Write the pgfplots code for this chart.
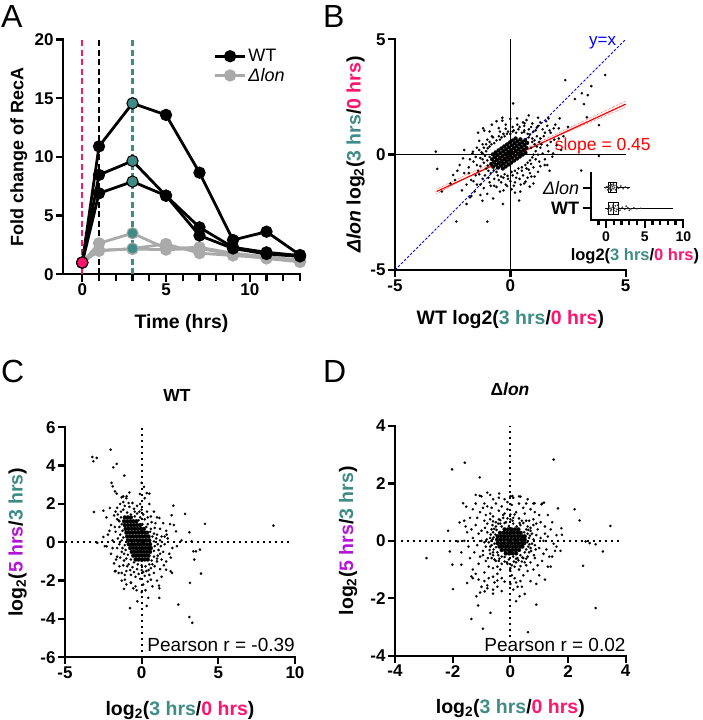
\documentclass[border=0pt]{standalone}
\usepackage{pgfplots}
\pgfplotsset{compat=1.18}
\usepgfplotslibrary{statistics}
\usepackage{fontspec}
\setmainfont{Liberation Sans}
\definecolor{tealc}{RGB}{63,140,135}
\definecolor{pinkc}{RGB}{255,20,110}
\definecolor{purpc}{RGB}{180,20,215}
\definecolor{grayc}{RGB}{170,170,170}
\newcommand{\tfs}{\fontsize{17}{20}\selectfont}
\newcommand{\lfs}{\fontsize{19.5}{23}\selectfont}
\tikzset{
  aline/.style={line width=2.3pt, line cap=rect, line join=miter, black},
  tline/.style={line width=2.3pt, black},
}
\pgfplotsset{
  prism/.style={
    scale only axis, anchor=south west, clip=false,
    axis lines*=left, tick align=outside,
    axis line style={line width=2.3pt, line cap=rect},
    tick style={line width=2.3pt, black},
    major tick length=6pt, minor tick length=5pt,
    /pgf/number format/assume math mode=true,
    ticklabel style={font=\bfseries\tfs},
    label style={font=\bfseries\lfs},
  },
  dots/.style={only marks, mark=*, mark size=1.25pt, mark options={fill=black, draw=black, line width=0.1pt}},
  bigdots/.style={only marks, mark=*, mark size=2pt, mark options={fill=black, draw=black, line width=0.1pt}},
  zline/.style={black, line width=2pt, dash pattern=on 2pt off 4pt},
}
\begin{document}
\begin{tikzpicture}
% ---------------- Panel A ----------------
\begin{axis}[prism, at={(63pt,445.7pt)}, width=237pt, height=234.7pt,
  xmin=-1.15, xmax=13, ymin=0, ymax=20,
  xtick={0,5,10}, minor xtick={1,2,3,4,6,7,8,9,11,12,13}, ytick={0,5,10,15,20},
  xlabel={Time (hrs)}, ylabel={Fold change of RecA},
  xlabel style={at={(axis description cs:0.5,-0.232)}, anchor=base},
  ylabel style={at={(axis description cs:-0.1675,0.5)}, anchor=base, font=\bfseries\fontsize{18}{21}\selectfont},
  legend style={at={(0.635,0.968)}, anchor=north west, draw=none, fill=none,
    font=\fontsize{18}{21.5}\selectfont, legend cell align=left, inner sep=0pt, row sep=1pt},
  legend image code/.code={\draw[mark repeat=2,mark phase=2,#1] plot coordinates {(0pt,0pt) (15pt,0pt) (30pt,0pt)};},
]
\addlegendimage{black, line width=2.8pt, mark=*, mark size=4.7pt}
\addlegendentry{WT}
\addlegendimage{grayc, line width=2.8pt, mark=*, mark size=4.7pt}
\addlegendentry{\textit{Δlon}}
\draw[aline] (rel axis cs:0,1) -- (rel axis cs:0,0) -- (rel axis cs:1,0);
\pgfplotsinvokeforeach{0,5,10}{\draw[tline] (axis cs:#1,0) -- ++(0pt,-7.5pt);}
\pgfplotsinvokeforeach{1,2,3,4,6,7,8,9,11,12,13}{\draw[tline] (axis cs:#1,0) -- ++(0pt,-6.5pt);}
\pgfplotsinvokeforeach{0,5,10,15,20}{\draw[tline] (axis cs:-1.15,#1) -- ++(-7pt,0pt);}
\addplot[forget plot, pinkc, line width=2.3pt, dash pattern=on 6pt off 3.5pt] coordinates {(0,0) (0,20)};
\addplot[forget plot, black, line width=2.3pt, dash pattern=on 6pt off 3.5pt] coordinates {(1,0) (1,20)};
\addplot[forget plot, tealc, line width=2.3pt, dash pattern=on 6pt off 3.5pt] coordinates {(3,0) (3,20)};
\addplot[forget plot, grayc, line width=2.8pt, mark=*, mark size=4.7pt] coordinates {(0,1) (1,2.64) (3,3.5) (5,2.2) (7,2.3) (9,1.8) (11,1.5) (13,1.2)};
\addplot[forget plot, grayc, line width=2.8pt, mark=*, mark size=4.7pt] coordinates {(0,1) (1,2.0) (3,2.2) (5,2.58) (7,1.8) (9,1.6) (11,1.4) (13,1.1)};
\addplot[forget plot, grayc, line width=2.8pt, mark=*, mark size=4.7pt] coordinates {(0,1) (1,2.05) (3,2.15) (5,2.1) (7,2.2) (9,1.7) (11,1.35) (13,1.05)};
\addplot[forget plot, black, line width=2.8pt, mark=*, mark size=4.7pt] coordinates {(0,1) (1,10.9) (3,14.57) (5,13.58) (7,8.66) (9,2.92) (11,3.63) (13,1.64)};
\addplot[forget plot, black, line width=2.8pt, mark=*, mark size=4.7pt] coordinates {(0,1) (1,8.47) (3,9.66) (5,6.7) (7,4.0) (9,2.3) (11,1.87) (13,1.6)};
\addplot[forget plot, black, line width=2.8pt, mark=*, mark size=4.7pt] coordinates {(0,1) (1,6.9) (3,7.9) (5,6.7) (7,3.3) (9,2.2) (11,1.73) (13,1.52)};
\addplot[forget plot, only marks, mark=*, mark size=4.7pt, tealc] coordinates {(3,14.57) (3,9.66) (3,7.9) (3,3.5) (3,2.2)};
\addplot[forget plot, only marks, mark=*, mark size=4.7pt, pinkc] coordinates {(0,1)};
\end{axis}
% ---------------- Panel B ----------------
\begin{axis}[prism, at={(395pt,450pt)}, width=230.7pt, height=230.7pt,
  xmin=-5, xmax=5, ymin=-5, ymax=5, xtick={-5,0,5}, ytick={-5,0,5},
  xlabel={WT log2(\textcolor{tealc}{3 hrs}/\textcolor{pinkc}{0 hrs})},
  ylabel={\textit{Δlon} log\textsubscript{2}(\textcolor{tealc}{3 hrs}/\textcolor{pinkc}{0 hrs})},
  xlabel style={at={(axis description cs:0.5,-0.238)}, anchor=base},
  ylabel style={at={(axis description cs:-0.149,0.5)}, anchor=base},
]
\draw[aline] (rel axis cs:0,1) -- (rel axis cs:0,0) -- (rel axis cs:1,0);
\pgfplotsinvokeforeach{-5,0,5}{\draw[tline] (axis cs:#1,-5) -- ++(0pt,-7pt);}
\pgfplotsinvokeforeach{-5,0,5}{\draw[tline] (axis cs:-5,#1) -- ++(-7pt,0pt);}
\addplot[black, line width=1pt] coordinates {(0,-5) (0,5)};
\addplot[black, line width=1pt] coordinates {(-5,0) (5,0)};
\addplot[bigdots] coordinates {
(-0.744,-0.528)(-0.83,-0.406)(0.73,0.506)(0.644,0.628)
(-0.535,-0.565)(-0.621,-0.442)(-0.707,-0.32)(-0.793,-0.197)
(0.693,0.297)(0.607,0.42)(0.521,0.542)(0.435,0.665)
(-0.326,-0.601)(-0.412,-0.478)(-0.498,-0.355)(-0.584,-0.233)(-0.67,-0.11)(-0.756,0.013)
(0.656,0.087)(0.57,0.21)(0.484,0.333)(0.398,0.455)(0.312,0.578)(0.226,0.701)
(-0.204,-0.515)(-0.29,-0.392)(-0.376,-0.269)(-0.462,-0.147)(-0.548,-0.024)(-0.634,0.099)
(-0.081,-0.429)(-0.167,-0.306)(-0.253,-0.183)(-0.339,-0.061)(-0.425,0.062)(-0.511,0.185)
(0.042,-0.343)(-0.044,-0.22)(-0.13,-0.097)(-0.216,0.025)(-0.302,0.148)(-0.388,0.271)
(0.165,-0.257)(0.079,-0.134)(-0.007,-0.011)(-0.093,0.111)(-0.179,0.234)(-0.265,0.357)
(0.288,-0.171)(0.202,-0.048)(0.116,0.075)(0.03,0.197)(-0.056,0.32)(-0.142,0.443)
(0.411,-0.085)(0.325,0.038)(0.239,0.161)(0.153,0.283)(0.067,0.406)(-0.019,0.529)
(0.534,0.001)(0.448,0.124)(0.362,0.247)(0.276,0.369)(0.19,0.492)(0.104,0.615)
};
\addplot[dots] coordinates {
(-1.15,-0.35)(-1.05,-0.6)(-0.85,-0.8)(-0.55,-0.9)(-0.25,-0.85)(0.05,-0.75)(0.35,-0.6)(0.65,-0.45)(0.85,-0.25)(1.0,0.0)
(1.1,0.15)(1.05,0.45)(0.95,0.7)(0.75,0.9)(0.5,0.95)(0.25,0.95)(0.0,0.9)(-0.25,0.8)(-0.45,0.65)(-0.7,0.5)
(-0.9,0.35)(-1.05,0.15)(-1.1,-0.05)(-0.95,-0.7)(-0.6,-0.75)(0.8,0.75)(0.9,0.3)(-0.9,-0.1)(0.95,0.55)(-1.0,-0.25)
(-0.98,-0.48)(-0.72,-0.68)(-0.4,-0.95)(-0.12,-0.92)(0.2,-0.7)(0.5,-0.55)(0.75,-0.35)(0.95,-0.12)(1.15,0.35)(1.05,0.62)
(0.85,0.88)(0.6,0.98)(0.1,1.0)(-0.15,0.9)(-0.38,0.75)(-0.6,0.62)(-0.82,0.45)(-0.98,0.28)(-1.2,0.05)(-1.3,-0.15)
(-1.45,-0.45)(-1.35,-0.85)(-1.2,-1.05)(-0.9,-1.2)(-0.4,-1.2)(0.0,-1.15)(0.25,-1.0)(0.55,-0.9)(0.8,-0.65)(1.0,-0.55)
(1.25,-0.3)(1.4,0.05)(1.35,0.45)(1.3,0.7)(1.1,1.05)(0.9,1.2)(0.6,1.25)(0.4,1.2)(0.1,1.2)(-0.2,1.12)
(-0.45,1.0)(-0.8,0.8)(-1.0,0.65)(-1.2,0.45)(-1.35,0.2)(-1.5,-0.1)
(-1.8,-0.8)(-1.6,-1.15)(-1.45,-1.3)(-1.15,-1.45)(-0.7,-1.35)(-0.3,-1.55)(0.15,-1.35)(0.45,-1.3)(0.75,-1.0)(1.2,-0.75)
(1.6,-0.45)(1.65,0.15)(1.75,0.55)(1.5,0.95)(1.6,1.25)(1.3,1.4)(0.7,1.5)(-0.35,1.6)(-0.8,1.3)
(-1.75,-0.2)(-2.3,-0.7)(-2.6,-1.25)(-1.3,-1.75)(-0.75,-1.9)(0.2,-1.65)(1.0,-1.25)(2.2,0.2)(2.1,0.7)
(1.95,1.3)(-1.4,0.95)(-2.0,0.2)
(-1.3,-0.5)(-1.2,-0.2)(-1.25,0.1)(-1.15,0.3)(-1.4,-0.7)(-1.5,-0.9)(-1.1,-0.9)(-0.95,-1.0)(-0.7,-1.05)(-0.5,-1.1)
(-0.3,-1.0)(-0.1,-1.05)(0.1,-0.9)(0.3,-0.8)(0.5,-0.7)(0.7,-0.6)(0.9,-0.4)(1.1,-0.2)(1.2,0.0)(1.3,0.3)
(1.25,0.55)(1.15,0.8)(1.0,1.0)(0.8,1.1)(0.6,1.05)(0.35,1.1)(0.15,1.05)(-0.1,1.0)(-0.3,0.9)(-0.5,0.8)
(-0.75,0.75)(-0.9,0.55)(-1.05,0.45)
(-1.6,-0.3)(-1.7,-1.1)(-1.3,-1.3)(-0.85,-1.35)(-0.6,-1.4)(-0.2,-1.3)(0.2,-1.2)(0.4,-1.05)(0.85,-0.8)(1.3,-0.5)
(1.5,-0.2)(1.6,0.4)(1.45,0.8)(1.4,1.1)(1.2,1.25)(0.95,1.35)(0.55,1.4)(0.3,1.3)(-0.2,1.3)(-0.5,1.15)
(-0.9,1.0)(-1.45,0.3)(-1.8,-0.55)(-2.0,-0.8)(-1.9,-1.3)(-1.55,-1.6)(-1.0,-1.7)(-0.45,-1.6)(0.05,-1.5)
(0.6,-1.25)(1.05,-0.95)(1.7,-0.7)(1.85,0.05)(1.9,0.65)(1.7,1.05)(1.55,1.45)(1.2,1.6)(0.8,1.7)(0.0,1.55)
(-0.6,1.45)(-1.35,0.6)(-1.65,0.05)(-2.2,-0.45)(-2.4,-1.1)(-2.1,-1.55)(-1.75,-1.85)
(4.11,3.45)(2.38,3.23)(3.51,2.97)(3.1,2.66)(3.36,2.58)(2.8,2.41)(3.19,2.19)(0.12,2.22)(3.32,1.62)(3.84,1.28)
(2.14,1.57)(1.66,1.57)(1.88,1.14)(1.75,0.95)(2.1,1.14)(-0.35,1.47)(-1.18,1.14)(-1.13,1.04)(-3.23,0.13)(-3.17,-0.62)
(-2.97,-1.6)(3.84,-0.06)(3.07,-0.69)(-2.34,-2.9)(-1.0,-2.9)(-0.32,-2.14)(-1.21,-2.0)(-1.9,-2.14)(-1.69,-1.79)(0.43,-1.6)
(0.84,-1.39)(0.66,-1.17)(1.82,-0.09)(1.49,-0.45)(-2.48,-0.88)(-2.05,-0.16)(-1.62,0.13)(0.29,1.57)(0.62,1.36)(1.15,1.18)
(0.38,-1.99)(-0.14,-1.36)(0.91,-0.95)(2.5,1.2)(2.3,0.8)(1.3,0.7)(2.0,0.4)
};
\addplot[blue, line width=1pt, dash pattern=on 2.5pt off 1.8pt] coordinates {(-5,-5) (5,5)};
\addplot[red, line width=0.5pt, densely dotted] coordinates {(-3.2,-1.50) (-1.5,-0.685) (0,-0.03) (1.5,0.665) (3,1.37) (5,2.32)};
\addplot[red, line width=0.5pt, densely dotted] coordinates {(-3.2,-1.70) (-1.5,-0.785) (0,-0.09) (1.5,0.565) (3,1.21) (5,2.06)};
\addplot[red, line width=1.2pt] coordinates {(-3.2,-1.6) (5,2.19)};
\node[blue, anchor=base, font=\fontsize{17}{20}\selectfont, inner sep=0pt] at (axis cs:4.0,4.75) {y=x};
\node[red, anchor=base west, font=\fontsize{17.5}{21}\selectfont, inner sep=0pt] at (axis cs:1.92,0.2) {slope = 0.45};
\end{axis}
% ---------------- Inset ----------------
\begin{axis}[prism, at={(590.7pt,500pt)}, width=92.6pt, height=46.7pt,
  xmin=-2, xmax=10, ymin=0.43, ymax=2.7,
  major tick length=8pt, minor tick length=5.5pt,
  xtick={0,5,10}, minor xtick={-1,1,2,3,4,6,7,8,9},
  ytick={1,2}, yticklabels={\textbf{WT},\textit{\mdseries Δlon}},
  xticklabel style={font=\bfseries\fontsize{14}{16}\selectfont},
  yticklabel style={font=\bfseries\fontsize{18}{21}\selectfont},
  xlabel={log2(\textcolor{tealc}{3 hrs}/\textcolor{pinkc}{0 hrs})},
  xlabel style={at={(axis description cs:0.478,-0.87)}, anchor=base, font=\bfseries\fontsize{16.5}{19}\selectfont},
]
\draw[aline, line width=1.7pt] (rel axis cs:0,1) -- (rel axis cs:0,0) -- (rel axis cs:1,0);
\pgfplotsinvokeforeach{0,5,10}{\draw[tline, line width=1.7pt] (axis cs:#1,0.43) -- ++(0pt,-8pt);}
\pgfplotsinvokeforeach{-1,1,2,3,4,6,7,8,9}{\draw[tline, line width=1.7pt] (axis cs:#1,0.43) -- ++(0pt,-5.5pt);}
\pgfplotsinvokeforeach{1,2}{\draw[tline, line width=1.7pt] (axis cs:-2,#1) -- ++(-8pt,0pt);}
\addplot[only marks, mark=*, mark size=0.8pt, black!80, mark options={line width=0.1pt}] coordinates {
(0.1,2.05)(0.3,1.9)(0.4,2.1)(0.5,1.95)(0.6,2.12)(0.7,1.88)(0.8,2.05)(0.9,1.95)(1.0,2.1)(1.2,1.9)
(1.4,2.05)(1.6,1.97)(1.9,2.08)(2.2,1.95)(2.5,2.03)(2.8,1.97)(0.2,1.9)(0.55,2.02)(0.75,2.15)(1.1,2.0)
(0.35,2.0)(0.65,1.92)(0.95,2.18)(1.3,2.12)(-0.1,2.0)
(0.2,0.95)(0.4,1.1)(0.6,0.88)(0.8,1.05)(1.0,0.9)(1.2,1.12)(1.4,0.95)(1.6,1.05)(1.8,0.9)(2.1,1.05)
(2.4,0.95)(2.8,1.03)(3.2,0.97)(3.6,1.02)(4.0,0.98)(4.5,1.0)(0.5,1.0)(0.9,1.15)(1.3,0.85)(0.7,0.95)
(1.1,1.0)(1.5,1.15)(0.3,0.85)(2.6,1.1)(3.0,0.9)
};
\addplot[black, line width=0.8pt, boxplot prepared={lower whisker=-0.3, lower quartile=0.25, median=0.6, upper quartile=1.3, upper whisker=3.1, draw position=2, box extend=0.5, whisker extend=0}] coordinates {};
\addplot[black, line width=0.8pt, boxplot prepared={lower whisker=-0.2, lower quartile=0.35, median=0.9, upper quartile=1.6, upper whisker=8.6, draw position=1, box extend=0.55, whisker extend=0}] coordinates {};
\end{axis}
% ---------------- Panel C ----------------
\begin{axis}[prism, at={(65pt,62.7pt)}, width=230pt, height=230pt,
  xmin=-5, xmax=10, ymin=-6, ymax=6, xtick={-5,0,5,10}, ytick={-6,-4,-2,0,2,4,6},
  xlabel={log\textsubscript{2}(\textcolor{tealc}{3 hrs}/\textcolor{pinkc}{0 hrs})},
  ylabel={log\textsubscript{2}(\textcolor{purpc}{5 hrs}/\textcolor{tealc}{3 hrs})},
  xlabel style={at={(axis description cs:0.5,-0.251)}, anchor=base},
  ylabel style={at={(axis description cs:-0.184,0.5)}, anchor=base},
  title={WT}, title style={at={(axis description cs:0.487,1.085)}, anchor=base, font=\bfseries\fontsize{17.5}{21}\selectfont},
]
\draw[aline] (rel axis cs:0,1) -- (rel axis cs:0,0) -- (rel axis cs:1,0);
\pgfplotsinvokeforeach{-5,0,5,10}{\draw[tline] (axis cs:#1,-6) -- ++(0pt,-7pt);}
\pgfplotsinvokeforeach{-6,-4,-2,0,2,4,6}{\draw[tline] (axis cs:-5,#1) -- ++(-7pt,0pt);}
\addplot[zline] coordinates {(0,-5.7) (0,6)};
\addplot[zline] coordinates {(-5,0) (9.8,0)};
\addplot[bigdots] coordinates {
(-1.1,1.3)(-0.9,1.3)(-0.7,1.3)
(-1.15,1.1)(-0.95,1.1)(-0.75,1.1)(-0.55,1.1)(-0.35,1.1)
(-1.1,0.9)(-0.9,0.9)(-0.7,0.9)(-0.5,0.9)(-0.3,0.9)(-0.1,0.9)
(-1.05,0.7)(-0.85,0.7)(-0.65,0.7)(-0.45,0.7)(-0.25,0.7)(-0.05,0.7)(0.15,0.7)
(-1.0,0.5)(-0.8,0.5)(-0.6,0.5)(-0.4,0.5)(-0.2,0.5)(0.0,0.5)(0.2,0.5)(0.35,0.5)
(-0.95,0.3)(-0.75,0.3)(-0.55,0.3)(-0.35,0.3)(-0.15,0.3)(0.05,0.3)(0.25,0.3)(0.45,0.3)
(-0.9,0.1)(-0.7,0.1)(-0.5,0.1)(-0.3,0.1)(-0.1,0.1)(0.1,0.1)(0.3,0.1)(0.5,0.1)
(-0.85,-0.1)(-0.65,-0.1)(-0.45,-0.1)(-0.25,-0.1)(-0.05,-0.1)(0.15,-0.1)(0.35,-0.1)(0.55,-0.1)
(-0.75,-0.3)(-0.55,-0.3)(-0.35,-0.3)(-0.15,-0.3)(0.05,-0.3)(0.25,-0.3)(0.45,-0.3)(0.6,-0.3)
(-0.65,-0.5)(-0.45,-0.5)(-0.25,-0.5)(-0.05,-0.5)(0.15,-0.5)(0.35,-0.5)(0.55,-0.5)
(-0.55,-0.7)(-0.35,-0.7)(-0.15,-0.7)(0.05,-0.7)(0.25,-0.7)(0.45,-0.7)
(-0.4,-0.9)(-0.2,-0.9)(0.0,-0.9)(0.2,-0.9)(0.4,-0.9)
};
\addplot[dots] coordinates {
(-1.35,1.6)(-1.2,1.7)(-0.95,1.55)(-0.7,1.45)(-0.45,1.35)(-0.2,1.15)(0.05,0.95)(0.3,0.8)(0.55,0.55)(0.7,0.3)
(0.8,0.05)(0.85,-0.2)(0.8,-0.45)(0.8,-0.75)(0.65,-0.95)(0.5,-1.15)(0.25,-1.25)(0.0,-1.2)(-0.25,-1.15)(-0.5,-1.05)
(-0.7,-0.9)(-0.9,-0.65)(-1.05,-0.4)(-1.1,-0.15)(-1.2,0.25)(-1.25,0.6)(-1.3,0.95)(-1.35,1.3)
(-1.45,1.1)(-1.6,1.2)(-1.75,0.8)(-1.55,0.2)(-1.45,-0.1)(-1.3,-0.5)(-1.15,-0.95)(-0.95,-1.25)(-0.75,-1.45)(-0.5,-1.55)
(-0.2,-1.65)(0.1,-1.55)(0.45,-1.45)(0.7,-1.15)(1.0,-0.85)(1.2,-0.6)(1.25,-0.2)(1.2,0.1)(1.0,0.4)(0.85,0.75)
(0.65,1.05)(0.4,1.3)(0.1,1.45)(-0.15,1.6)(-0.45,1.6)(-0.85,2.05)(-1.2,2.1)(-1.7,1.6)(-2.3,1.3)(-2.1,0.6)
(-1.9,-0.3)(-1.6,-0.75)(-1.45,-1.25)(-1.1,-1.7)(-0.55,-2.4)(0.25,-2.5)(0.6,-1.95)(1.3,-1.8)(1.45,-1.2)(2.0,-0.3)
(1.5,0.3)(1.85,0.95)(0.8,1.6)(-0.1,2.0)
(-1.6,1.8)(-1.4,2.0)(-1.1,1.9)(-0.8,1.85)(-0.5,1.75)(-0.3,1.5)(-0.1,1.3)(0.2,1.2)(0.4,0.95)(0.6,0.7)
(0.8,0.45)(0.95,0.2)(1.05,-0.1)(1.1,-0.4)(1.05,-0.7)(1.0,-1.0)(0.85,-1.25)(0.6,-1.35)(0.3,-1.5)(0.0,-1.45)
(-0.3,-1.4)(-0.6,-1.3)(-0.85,-1.15)(-1.0,-0.85)(-1.15,-0.6)(-1.25,-0.3)(-1.3,0.1)(-1.4,0.4)(-1.45,0.8)(-1.5,1.15)
(-1.55,1.45)(-1.8,1.4)(-2.0,0.9)(-1.7,0.55)(-1.9,0.1)(-1.6,-0.3)(-1.4,-0.8)(-1.2,-1.2)(-1.0,-1.5)(-0.7,-1.7)
(-0.4,-1.8)(-0.1,-1.9)(0.2,-1.75)(0.5,-1.7)(0.8,-1.6)(1.2,-1.4)(1.3,-0.9)(1.4,-0.5)(1.5,-0.1)(1.3,0.3)
(1.2,0.7)(0.9,1.0)(0.6,1.35)(0.35,1.6)(0.0,1.7)(-0.3,1.9)(-0.6,2.05)(-1.0,2.3)(-1.3,2.35)
(-1.5,-1.6)(-1.3,-2.0)(-1.0,-2.2)(-0.7,-2.1)(-0.4,-2.3)(0.1,-2.2)(0.4,-2.05)(0.7,-2.3)(1.0,-2.0)(1.6,-1.0)
(1.8,-0.6)(1.7,0.2)(1.6,0.6)(1.4,1.0)(1.0,1.3)(0.5,2.0)(0.2,2.3)(-0.8,2.6)(-2.2,0.4)(-2.4,-0.2)
(-2.0,-0.6)(-1.8,-1.1)(-1.7,-1.5)
(-3.22,4.45)(-2.93,4.4)(-3.15,4.23)(-2.02,4.83)(-1.63,4.09)(-1.85,3.91)(-1.13,3.48)(-1.96,3.1)(-1.89,2.92)(-1.74,2.66)
(-1.63,2.54)(-1.2,2.4)(-0.98,2.4)(-3.11,1.58)(-2.5,1.65)(-2.07,1.79)(0.0,3.1)(0.15,2.89)(0.33,2.57)(0.5,2.54)
(-0.11,2.52)(2.07,1.91)(2.83,1.48)(1.96,1.41)(1.15,1.27)(4.13,0.96)(3.11,0.52)(2.24,0.57)(1.63,0.40)(8.59,0.87)
(3.26,0.05)(3.37,-0.47)(3.54,-0.47)(3.43,-0.9)(3.8,-0.38)(3.87,-1.63)(1.89,-1.51)(1.98,-1.60)(1.59,-1.43)(3.15,-2.12)
(1.13,-2.26)(1.15,-2.40)(1.15,-2.9)(2.39,-3.25)(3.11,-3.9)(3.3,-4.2)(-0.76,-3.43)(-0.28,-3.08)(0.43,-2.9)(0.33,-3.32)
(-1.15,-2.43)(-1.74,-1.51)(-2.28,-0.21)(-2.89,-0.03)(-2.5,0.28)(-1.67,-0.9)(-1.3,-1.6)(-1.09,-1.95)(-0.7,-2.12)(-0.33,-2.5)
(0.0,-2.6)(2.3,-0.2)(2.6,0.1)(1.9,-0.8)(2.1,0.9)
};
\node[anchor=base east, inner sep=0pt, font=\fontsize{19}{22}\selectfont] at (axis cs:10,-5.69) {Pearson r = -0.39};
\end{axis}
% ---------------- Panel D ----------------
\begin{axis}[prism, at={(395pt,64.3pt)}, width=230.7pt, height=229.7pt,
  xmin=-4, xmax=4, ymin=-4, ymax=4, xtick={-4,-2,0,2,4}, ytick={-4,-2,0,2,4},
  xlabel={log\textsubscript{2}(\textcolor{tealc}{3 hrs}/\textcolor{pinkc}{0 hrs})},
  ylabel={log\textsubscript{2}(\textcolor{purpc}{5 hrs}/\textcolor{tealc}{3 hrs})},
  xlabel style={at={(axis description cs:0.5,-0.251)}, anchor=base},
  ylabel style={at={(axis description cs:-0.181,0.5)}, anchor=base},
  title={Δ\textit{lon}}, title style={at={(axis description cs:0.4985,1.105)}, anchor=base, font=\bfseries\fontsize{17.5}{21}\selectfont},
]
\draw[aline] (rel axis cs:0,1) -- (rel axis cs:0,0) -- (rel axis cs:1,0);
\pgfplotsinvokeforeach{-4,-2,0,2,4}{\draw[tline] (axis cs:#1,-4) -- ++(0pt,-7pt);}
\pgfplotsinvokeforeach{-4,-2,0,2,4}{\draw[tline] (axis cs:-4,#1) -- ++(-7pt,0pt);}
\addplot[zline] coordinates {(0,-3.35) (0,4)};
\addplot[zline] coordinates {(-3.8,0) (3.85,0)};
\addplot[bigdots] coordinates {
(-0.2,0.4)(-0.08,0.4)(0.04,0.4)(0.16,0.4)(0.28,0.4)
(-0.36,0.28)(-0.24,0.28)(-0.12,0.28)(0,0.28)(0.12,0.28)(0.24,0.28)(0.36,0.28)
(-0.44,0.16)(-0.32,0.16)(-0.2,0.16)(-0.08,0.16)(0.04,0.16)(0.16,0.16)(0.28,0.16)(0.4,0.16)(0.5,0.16)
(-0.46,0.04)(-0.34,0.04)(-0.22,0.04)(-0.1,0.04)(0.02,0.04)(0.14,0.04)(0.26,0.04)(0.38,0.04)(0.5,0.04)
(-0.44,-0.08)(-0.32,-0.08)(-0.2,-0.08)(-0.08,-0.08)(0.04,-0.08)(0.16,-0.08)(0.28,-0.08)(0.4,-0.08)(0.48,-0.08)
(-0.38,-0.2)(-0.26,-0.2)(-0.14,-0.2)(-0.02,-0.2)(0.1,-0.2)(0.22,-0.2)(0.34,-0.2)(0.42,-0.2)
(-0.3,-0.32)(-0.18,-0.32)(-0.06,-0.32)(0.06,-0.32)(0.18,-0.32)(0.3,-0.32)
(-0.16,-0.44)(-0.04,-0.44)(0.08,-0.44)(0.2,-0.44)
};
\addplot[dots] coordinates {
(-0.52,0.22)(-0.5,-0.22)(-0.48,0.38)(-0.42,-0.5)(-0.3,0.5)(-0.2,-0.56)(-0.05,0.52)(0.1,-0.55)(0.22,0.5)(0.35,-0.5)
(0.48,0.3)(0.55,-0.3)(0.6,0.25)(0.58,-0.05)(-0.58,0.12)(-0.65,-0.15)(-0.68,0.22)(-0.72,-0.32)(-0.62,0.55)(-0.5,-0.7)
(-0.35,0.72)(-0.12,-0.75)(0.08,0.7)(0.28,-0.68)(0.45,0.62)(0.55,-0.62)(0.7,0.45)(0.72,-0.35)(0.8,0.05)(0.82,-0.5)
(-0.82,0.05)(-0.85,-0.2)(-0.88,0.45)(-0.78,-0.6)(-0.25,0.9)(0.15,0.92)(-0.45,-0.9)(0.35,-0.88)(0.7,-0.75)(-0.7,0.75)
(0.9,0.6)(-0.95,-0.5)(0.0,0.92)(0.0,-0.95)
(-0.56,0.42)(-0.6,-0.4)(-0.42,0.6)(-0.38,-0.62)(-0.2,0.62)(0.2,-0.62)(0.32,0.62)(0.42,-0.58)(0.62,0.38)(0.66,-0.12)
(-0.66,0.0)(0.68,0.18)(-0.1,0.78)(0.12,-0.72)(-0.6,0.68)(0.55,0.7)(-0.65,-0.6)(0.5,-0.75)(-0.9,-0.05)(0.88,-0.3)
(-0.6,0.3)(-0.55,-0.1)(-0.5,0.5)(-0.45,-0.4)(-0.35,0.6)(-0.3,-0.55)(-0.15,0.65)(-0.05,-0.65)(0.1,0.6)(0.25,-0.6)
(0.35,0.55)(0.5,-0.4)(0.55,0.4)(0.62,-0.2)(0.65,0.1)(-0.62,0.05)(-0.58,-0.3)(-0.4,0.75)(0.0,0.75)(0.3,0.78)
(-0.2,-0.72)(0.4,-0.72)(0.7,0.35)(0.7,-0.25)(-0.75,-0.05)(-0.8,0.3)(-0.7,-0.45)(-0.55,-0.65)(-0.3,-0.8)(0.05,-0.85)
(0.6,-0.55)(0.85,-0.15)(0.9,0.2)(0.65,0.7)(-0.6,0.85)(-0.85,0.9)(-1.1,0.25)(-1.15,-0.15)(-1.05,-0.55)(-0.75,-0.9)
(-0.45,-1.15)(0.05,-1.2)(0.6,-1.05)(0.95,-0.85)(1.15,-0.45)(1.15,0.0)(1.05,0.65)(0.85,1.0)(0.45,1.15)(0.05,1.25)
(-0.3,1.2)(-0.65,1.15)(-0.95,1.15)(-1.15,0.8)(-1.35,0.4)(-1.4,-0.6)(-1.2,-1.15)(-0.8,-1.55)(-0.45,-1.6)(0.25,-1.6)
(0.7,-1.4)(1.0,-1.2)(1.3,-0.9)(1.45,-0.55)(1.45,0.65)(1.3,0.9)(0.6,1.45)(-0.2,1.45)(-0.6,1.45)(-1.3,1.1)
(-1.7,-0.4)(-1.6,0.7)(-1.05,-1.8)(0.5,-1.85)(0.2,-2.1)
(-0.7,0.1)(-0.7,-0.2)(-0.65,0.4)(-0.6,-0.5)(-0.5,0.65)(-0.4,-0.7)(-0.25,0.8)(-0.1,-0.8)(0.1,0.8)(0.2,-0.75)
(0.4,0.7)(0.45,-0.6)(0.6,0.5)(0.65,-0.4)(0.75,0.25)(0.75,-0.1)(-0.8,0.6)(0.8,0.55)
(-1.0,0.0)(-1.0,0.35)(-0.95,-0.35)(-0.9,0.7)(-0.85,-0.7)(-0.7,0.95)(-0.6,-0.95)(-0.4,1.05)(-0.35,-1.0)(-0.1,1.1)
(0.0,-1.05)(0.2,1.0)(0.3,-1.0)(0.5,0.95)(0.55,-0.85)(0.8,0.75)(0.85,-0.6)(0.95,0.4)(1.0,-0.25)(1.05,0.1)
(-0.2,0.95)(0.15,-0.9)
(-1.3,0.1)(-1.25,-0.4)(-1.2,0.55)(-1.1,-0.8)(-1.05,1.0)(-0.9,-1.1)(-0.8,1.2)(-0.6,-1.25)(-0.5,1.3)(-0.3,-1.3)
(-0.1,1.35)(0.15,-1.3)(0.3,1.3)(0.45,-1.2)(0.7,1.1)(0.8,-1.0)(1.0,0.9)(1.1,-0.7)(1.2,0.5)(1.25,-0.3)
(1.3,0.15)(1.2,0.25)
(-1.3,-1.3)(-1.1,-1.35)(-0.9,-1.4)(-0.75,-1.3)(-0.55,-1.45)(-0.45,-1.38)(-0.2,-1.42)(0.0,-1.5)(0.2,-1.45)(0.35,-1.4)
(-1.0,-1.6)(-0.8,-1.65)(-0.6,-1.7)(-0.3,-1.75)(0.1,-1.7)(0.4,-1.6)
(-0.9,1.3)(-1.2,1.3)(-1.0,1.55)(-0.7,1.6)(-0.4,1.5)(0.0,1.55)(0.1,1.5)(0.3,1.55)(0.55,1.3)(0.8,1.3)(1.1,1.3)
(1.4,0.4)(1.5,-0.1)(1.35,-0.55)(1.6,0.2)(1.55,-0.35)
(-1.5,0.3)(-1.45,-0.2)(-1.6,0.0)(-1.4,0.8)(-1.3,-1.0)
(-1.58,2.72)(-2.02,2.49)(-1.06,2.21)(1.5,2.83)(-0.8,1.68)(-1.2,1.6)(-1.06,1.57)(-0.39,1.65)(0.07,1.56)(0.35,1.54)
(0.84,1.31)(1.08,1.27)(1.17,1.33)(1.65,1.13)(2.23,1.1)(2.4,0.71)(3.47,0.52)(1.77,0.44)(1.79,0.21)(1.6,-0.2)
(1.74,-0.35)(2.61,-0.02)(2.75,-0.08)(2.96,-0.12)(3.21,-0.37)(2.52,-0.87)(2.96,-2.34)(0.9,-2.22)(0.32,-1.93)(0.61,-3.18)
(-0.95,-3.06)(-1.35,-2.72)(-1.12,-2.25)(-0.69,-2.51)(-1.18,-1.93)(-0.89,-1.76)(-0.6,-1.84)(-1.5,-1.47)(-1.35,-1.24)(-1.99,-1.68)
(-2.01,-0.83)(-1.7,-0.83)(-2.1,-0.37)(-2.16,0.35)(-2.91,-0.6)(-1.76,0.64)(-1.64,1.31)(-1.53,1.19)(-1.55,0.5)(-1.82,-0.02)
(1.2,-1.35)(0.9,-1.5)(1.4,-0.9)
};
\node[anchor=base east, inner sep=0pt, font=\fontsize{19}{22}\selectfont] at (axis cs:4,-3.86) {Pearson r = 0.02};
\end{axis}
% ---------------- Panel letters ----------------
\node[anchor=base west, inner sep=0pt, font=\fontsize{32}{36}\selectfont] at (1pt,692pt) {A};
\node[anchor=base west, inner sep=0pt, font=\fontsize{32}{36}\selectfont] at (323pt,692pt) {B};
\node[anchor=base west, inner sep=0pt, font=\fontsize{32}{36}\selectfont] at (1pt,337pt) {C};
\node[anchor=base west, inner sep=0pt, font=\fontsize{32}{36}\selectfont] at (323pt,337pt) {D};
\pgfresetboundingbox
\useasboundingbox (0,0) rectangle (703pt,720pt);
\end{tikzpicture}
\end{document}
